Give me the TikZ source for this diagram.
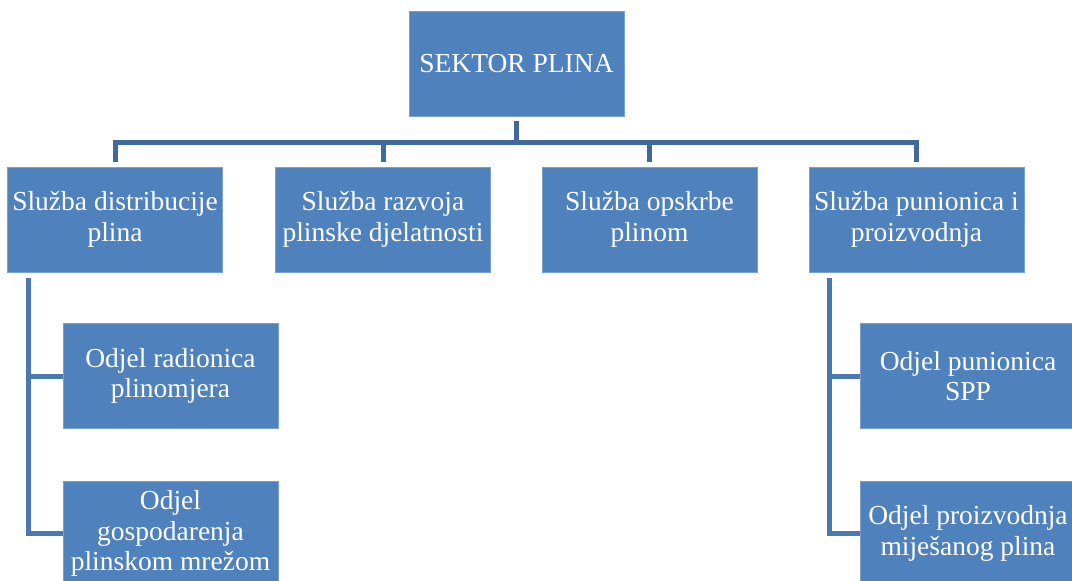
\documentclass[tikz,border=0pt]{standalone}
\usepackage{fontspec}
\setmainfont{Liberation Serif}
\usetikzlibrary{positioning}
\definecolor{boxblue}{HTML}{4F81BD}
\definecolor{topline}{HTML}{41699B}
\definecolor{sideline}{HTML}{4A78B0}

\begin{document}
\begin{tikzpicture}[x=1pt,y=-1pt,
  unit/.style={fill=boxblue, draw=boxblue!75!white, line width=0.6pt, text=white,
    minimum width=215pt, minimum height=105pt, align=center, inner sep=1pt,
    font=\fontsize{27.5}{30.5}\selectfont},
  link/.style={draw=topline, line width=5pt},
  sidelink/.style={draw=sideline, line width=5pt}]
\clip (0,0) rectangle (1072,581);

% sector
\node [unit] (sektor) at (516.5,63.5) {SEKTOR PLINA};

% services
\node [unit] (distr) at (115,219.5) {Služba distribucije\\plina};
\node [unit] (razvoj) at (383,219.5) {Služba razvoja\\plinske djelatnosti};
\node [unit] (opskrba) at (649.5,219.5) {Služba opskrbe\\plinom};
\node [unit] (punion) at (916.5,219.5) {Služba punionica i\\proizvodnja};

% departments
\node [unit] (radion) at (170.5,376) {Odjel radionica\\plinomjera};
\node [unit] (mreza) at (170.5,533.5) {Odjel\\gospodarenja\\plinskom mrežom};
\node [unit] (spp) at (968,376) {Odjel punionica\\SPP};
\node [unit] (mjesani) at (968,533.5) {Odjel proizvodnja\\miješanog plina};

% top level connectors
\coordinate (bar) at (516.5,142);
\draw [link] ([yshift=-5pt]sektor.south) -- (sektor.south |- bar);
\draw [link] ([yshift=5pt]distr.north) |- (bar) -| ([yshift=5pt]punion.north);
\draw [link] ([yshift=5pt]razvoj.north) -- (razvoj.north |- bar);
\draw [link] ([yshift=5pt]opskrba.north) -- (opskrba.north |- bar);

% side connectors
\coordinate (lspine) at (28,278);
\draw [sidelink] (lspine) |- (mreza.west);
\draw [sidelink] (lspine |- radion.west) -- (radion.west);
\coordinate (rspine) at (829,278);
\draw [sidelink] (rspine) |- (mjesani.west);
\draw [sidelink] (rspine |- spp.west) -- (spp.west);
\end{tikzpicture}
\end{document}
